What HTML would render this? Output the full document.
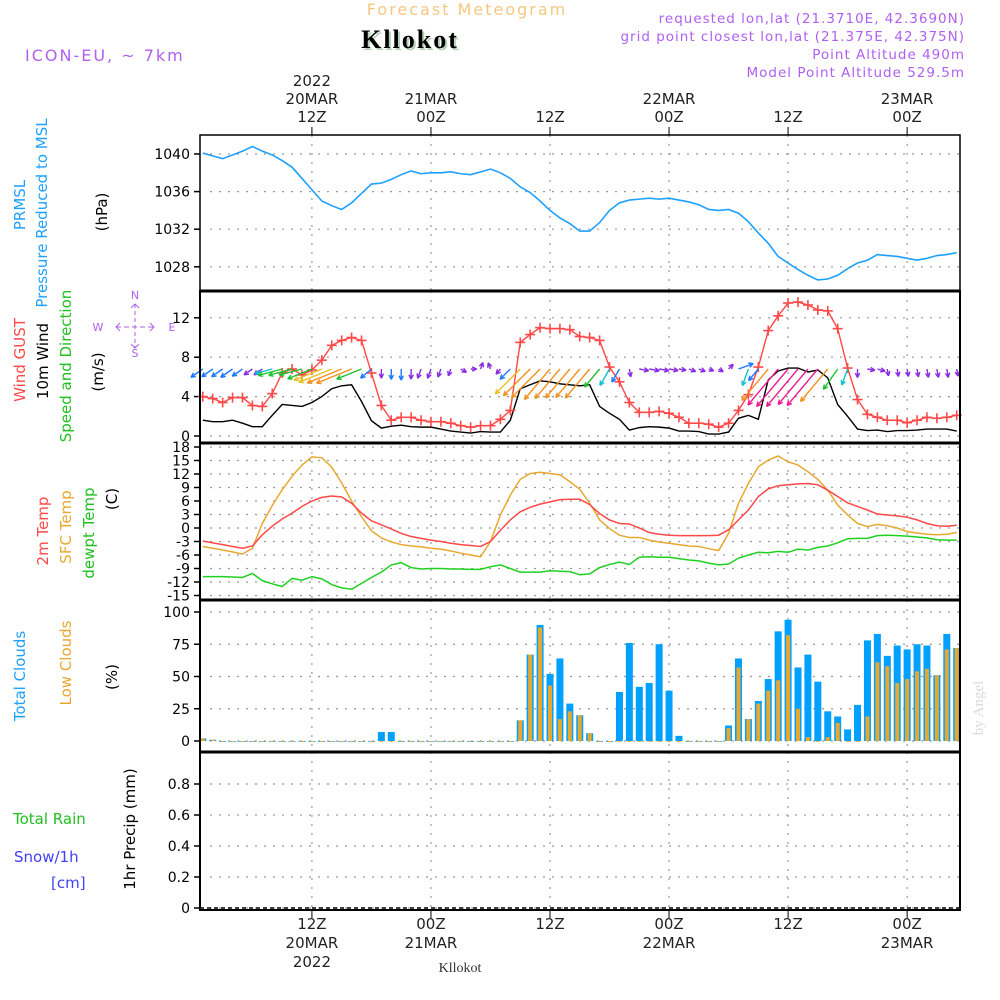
<!DOCTYPE html>
<html><head><meta charset="utf-8"><style>
body{margin:0;background:#fff}
svg{display:block;font-family:"DejaVu Sans","Liberation Sans",sans-serif}
</style></head><body>
<svg id="c" width="1000" height="1000" viewBox="0 0 1000 1000"></svg>
<script>
const hours=[];for(let h=1;h<=77;h++)hours.push(h);
const pressure=[1040.1,1039.8,1039.5,1039.9,1040.3,1040.8,1040.3,1039.9,1039.3,1038.6,1037.4,1036.2,1035.0,1034.5,1034.1,1034.8,1035.8,1036.8,1036.9,1037.3,1037.8,1038.2,1037.9,1038.0,1038.0,1038.1,1037.9,1037.8,1038.1,1038.4,1038.0,1037.4,1036.5,1035.9,1035.0,1034.0,1033.2,1032.6,1031.8,1031.8,1032.7,1034.0,1034.8,1035.1,1035.2,1035.3,1035.2,1035.3,1035.1,1034.9,1034.6,1034.1,1034.0,1034.1,1033.7,1032.8,1031.6,1030.5,1029.1,1028.4,1027.7,1027.1,1026.6,1026.7,1027.1,1027.8,1028.4,1028.7,1029.3,1029.2,1029.1,1028.9,1028.7,1028.9,1029.2,1029.3,1029.5];
const gust=[4.0,3.8,3.4,3.9,3.9,3.1,3.0,4.3,6.4,6.8,6.2,6.7,7.7,9.2,9.7,10.0,9.7,6.4,3.1,1.6,1.9,1.9,1.6,1.45,1.45,1.3,1.05,0.9,1.05,1.05,1.7,2.6,9.5,10.3,11.0,10.9,10.9,10.8,10.1,10.0,9.7,7.0,5.5,3.4,2.4,2.4,2.5,2.3,1.9,1.3,1.3,1.2,0.9,1.3,2.6,4.2,7.0,10.7,12.2,13.5,13.6,13.3,12.8,12.7,10.9,6.9,3.7,2.2,1.9,1.6,1.6,1.35,1.6,1.9,1.8,1.9,2.1];
const wind10=[1.6,1.45,1.45,1.6,1.3,0.95,0.95,2.1,3.2,3.1,3.0,3.4,4.0,4.8,5.1,5.2,3.5,1.55,0.8,1.0,1.1,0.95,0.9,0.9,0.7,0.5,0.4,0.3,0.45,0.4,0.4,1.6,4.8,5.2,5.6,5.5,5.3,5.2,5.1,5.2,3.0,2.3,1.7,0.6,0.85,0.95,0.9,0.8,0.5,0.5,0.45,0.2,0.2,0.4,1.8,2.1,1.7,5.7,6.6,6.9,6.9,6.5,6.7,5.9,3.2,2.0,0.7,0.55,0.6,0.45,0.55,0.55,0.6,0.7,0.7,0.7,0.5];
const windDir=[55,55,55,55,55,55,55,75,75,75,75,68,68,68,68,68,68,50,0,0,0,0,20,20,20,20,300,270,200,160,40,45,45,45,45,40,40,40,40,40,40,30,30,350,280,280,280,280,280,290,290,290,300,225,250,20,40,40,40,40,40,40,40,40,35,20,0,280,285,350,350,350,350,350,350,350,350];
const t2m=[-2.9,-3.3,-3.7,-4.1,-4.5,-4.0,-1.5,0.4,2.0,3.3,4.8,6.0,6.8,7.1,6.9,5.5,3.3,1.6,0.7,-0.2,-1.2,-1.9,-2.3,-2.7,-3.0,-3.4,-3.7,-3.9,-4.1,-3.0,-0.5,1.8,3.6,4.6,5.3,5.8,6.3,6.4,6.4,5.2,3.2,1.8,1.0,0.9,0.0,-1.0,-1.4,-1.6,-1.7,-1.7,-1.7,-1.7,-1.6,-0.4,1.8,4.0,7.0,8.7,9.4,9.6,9.8,9.9,9.6,8.4,7.0,5.6,4.8,4.0,3.1,2.9,2.7,2.4,1.8,1.0,0.5,0.4,0.6];
const tsfc=[-4.1,-4.5,-4.9,-5.3,-5.8,-4.5,1.0,5.0,8.5,11.5,14.0,15.8,15.6,13.5,10.0,6.0,2.5,-0.6,-2.2,-3.1,-3.7,-4.0,-4.2,-4.5,-4.7,-5.1,-5.6,-6.0,-6.4,-3.0,2.9,7.3,10.8,12.1,12.4,12.1,11.8,10.3,8.6,5.5,1.8,-0.1,-1.6,-2.1,-2.1,-2.7,-3.1,-3.4,-3.7,-4.0,-4.1,-4.6,-5.0,-1.2,5.5,9.9,13.6,15.1,16.0,14.7,14.0,12.5,10.8,8.4,5.1,2.9,1.0,0.3,0.8,0.5,0.0,-0.8,-1.1,-1.4,-1.5,-1.4,-1.0];
const tdew=[-10.8,-10.8,-10.8,-10.9,-11.0,-10.1,-11.7,-12.4,-13.0,-11.2,-11.6,-10.8,-11.3,-12.6,-13.3,-13.6,-12.3,-11.0,-9.8,-8.2,-7.7,-8.8,-9.1,-9.0,-9.0,-9.1,-9.1,-9.2,-9.2,-8.6,-8.2,-9.0,-9.8,-9.8,-9.8,-9.5,-9.6,-9.7,-10.4,-10.2,-8.8,-8.1,-7.6,-8.1,-6.5,-6.4,-6.5,-6.5,-6.8,-7.1,-7.3,-7.8,-8.2,-8.0,-6.7,-6.0,-5.4,-5.5,-5.2,-5.4,-4.7,-4.9,-4.3,-4.0,-3.3,-2.4,-2.3,-2.3,-1.7,-1.6,-1.7,-1.8,-2.0,-2.2,-2.6,-2.7,-2.7];
const cloudTotal=[2,1,0,0,0,0,0,0,0,0,0,0,0,0,0,0,0,0,7,7,0,0,0,0,0,0,0,0,0,0,0,0,16,67,90,52,64,29,20,6,0,0,38,76,42,45,75,39,4,0,0,0,0,12,64,17,31,48,85,94,57,67,46,23,19,9,28,78,83,66,74,71,75,74,51,83,72];
const cloudLow=[2,1,0,0,0,0,0,0,0,0,0,0,0,0,0,0,0,0,0,0,0,0,0,0,0,0,0,0,0,0,0,0,16,67,88,43,17,23,20,6,0,0,0,0,0,0,0,0,0,0,0,0,0,10,57,17,29,39,47,82,25,3,0,3,14,0,0,19,61,58,45,48,54,56,51,71,72];
const pTicks=[1028,1032,1036,1040];
const wTicks=[0,4,8,12];
const tTicks=[18,15,12,9,6,3,0,-3,-6,-9,-12,-15];
const cTicks=[0,25,50,75,100];
const rTicks=[0,0.2,0.4,0.6,0.8];
const timeTicks=[12,24,36,48,60,72];

const NS="http://www.w3.org/2000/svg";
const svg=document.getElementById('c');
function el(tag,attrs,parent,txt){const e=document.createElementNS(NS,tag);for(const k in attrs)e.setAttribute(k,attrs[k]);if(txt!==undefined)e.textContent=txt;(parent||svg).appendChild(e);return e;}
const X=h=>550+(h-36)*9.92;
const L=200,R=960;
const yP=v=>154+(1040-v)*9.4;
const yW=v=>436-v*9.85;
const yT=v=>528-v*4.5;
const yC=v=>741-v*1.29;
const yR=v=>908-v*155;
const panels=[[135,291],[291,443],[443,600],[600,752],[752,910]];

const grid=el('g',{stroke:'#999','stroke-width':1.2,'stroke-dasharray':'2,7'});


panels.forEach(p=>timeTicks.forEach(h=>el('line',{x1:X(h),x2:X(h),y1:p[0],y2:p[1]},grid)));
function hgrid(ticks,fy){ticks.forEach(t=>{const y=fy(t);el('line',{x1:L+10,x2:R,y1:y,y2:y},grid);
 el('line',{x1:L-6,x2:L,y1:y,y2:y,stroke:'#000','stroke-width':1.5});
 const tx=el('text',{x:L-10,y:y+5,'text-anchor':'end','font-size':14,fill:'#000'},svg,String(t));
 
 });}
hgrid(pTicks,yP);hgrid(wTicks,yW);hgrid(tTicks,yT);hgrid(cTicks,yC);hgrid(rTicks,yR);

const pl=el('polyline',{points:hours.map((h,i)=>X(h)+','+yP(pressure[i])).join(' '),fill:'none',stroke:'#1ea0ff','stroke-width':1.6});



const wl=el('polyline',{points:hours.map((h,i)=>X(h)+','+yW(wind10[i])).join(' '),fill:'none',stroke:'#000','stroke-width':1.4});


const gl=el('polyline',{points:hours.map((h,i)=>X(h)+','+yW(gust[i])).join(' '),fill:'none',stroke:'#ff4848','stroke-width':1.4});


const gm=el('g',{stroke:'#ff4848','stroke-width':1.6});


hours.forEach((h,i)=>{const x=X(h),y=yW(gust[i]);el('line',{x1:x-5,x2:x+5,y1:y,y2:y},gm);el('line',{x1:x,x2:x,y1:y-5,y2:y+5},gm);});
function wcol(s){if(s<1)return '#8a2be2';if(s<2)return '#1e78ff';if(s<3)return '#10c0d0';if(s<4)return '#20c030';if(s<5)return '#e8c020';if(s<6)return '#f09020';return '#f01890';}
const wa=el('g',{fill:'none','stroke-width':1.4});


hours.forEach((h,i)=>{const s=wind10[i],d=windDir[i]*Math.PI/180;const len=4+6.5*s;
 const dx=-Math.sin(d),dy=Math.cos(d);const x0=X(h),y0=369,x1=x0+dx*len,y1=y0+dy*len;const c=wcol(s);
 const g=el('g',{stroke:c},wa);
 el('line',{x1:x0,y1:y0,x2:x1,y2:y1},g);
 const bx=-dx,by=-dy,hl=5;
 [0.45,-0.45].forEach(t=>{const ca=Math.cos(t),sa=Math.sin(t);
   el('line',{x1:x1,y1:y1,x2:x1+(bx*ca-by*sa)*hl,y2:y1+(bx*sa+by*ca)*hl},g);});
});

[[tsfc,'#e8a830','sfc-temp-line'],[t2m,'#ff4848','temp-2m-line'],[tdew,'#20d020','dewpoint-line']].forEach(s=>{
 const l=el('polyline',{points:hours.map((h,i)=>X(h)+','+yT(s[0][i])).join(' '),fill:'none',stroke:s[1],'stroke-width':1.5});
 
 });

const cb=el('g',{});


hours.forEach((h,i)=>{const x=X(h);
 const t=el('rect',{x:x-3.5,y:yC(cloudTotal[i]),width:7,height:Math.max(741-yC(cloudTotal[i]),0.8),fill:'#00a0ff'},cb);
 
 
 const lo=el('rect',{x:x-2,y:yC(cloudLow[i]),width:4,height:Math.max(741-yC(cloudLow[i]),0.8),fill:'#e8a830'},cb);
 
 });

el('line',{x1:L,x2:R,y1:908,y2:908,stroke:'#000','stroke-width':1.5,'stroke-dasharray':'4,3'});

panels.forEach((p,i)=>{const r=el('rect',{x:L,y:p[0],width:R-L,height:p[1]-p[0],fill:'none',stroke:'#000','stroke-width':i==0?1.5:2});
 
 });
[291,443,600,752].forEach(y=>el('line',{x1:L,x2:R,y1:y,y2:y,stroke:'#000','stroke-width':3}));
timeTicks.forEach(h=>{el('line',{x1:X(h),x2:X(h),y1:127,y2:135,stroke:'#000'});el('line',{x1:X(h),x2:X(h),y1:910,y2:918,stroke:'#000'});});

function T(x,y,s,txt,name,rot){const a=Object.assign({x:x,y:y},s);if(rot)a.transform='rotate(-90 '+x+' '+y+')';const t=el('text',a,svg,txt);
 
 return t;}
const mid={'text-anchor':'middle','font-size':15};
const topL=[[12,['2022','20MAR','12Z']],[24,['21MAR','00Z']],[36,['12Z']],[48,['22MAR','00Z']],[60,['12Z']],[72,['23MAR','00Z']]];
topL.forEach(t=>{const n=t[1].length;t[1].forEach((s,k)=>T(X(t[0]),125-(n-1-k)*18-3,Object.assign({fill:'#222'},mid),s,'top-time-label'));});
const botL=[[12,['12Z','20MAR','2022']],[24,['00Z','21MAR']],[36,['12Z']],[48,['00Z','22MAR']],[60,['12Z']],[72,['00Z','23MAR']]];
botL.forEach(t=>t[1].forEach((s,k)=>T(X(t[0]),929+k*19,Object.assign({fill:'#222'},mid),s,'bottom-time-label')));

T(467,15,{'text-anchor':'middle','font-size':16,fill:'#f5c880','letter-spacing':'2'},'Forecast Meteogram','chart-title');
T(410,48,{'text-anchor':'middle','font-size':26,'font-weight':'bold','font-family':'Liberation Serif, serif',fill:'#000','letter-spacing':'2',style:'text-shadow:2px 2px 0 #b8d0b8'},'Kllokot','location-title');
T(25,61,{'font-size':16,fill:'#b060f0','letter-spacing':'2'},'ICON-EU, ~ 7km','model-label');
const rs={'text-anchor':'end','font-size':13.5,fill:'#b060f0','letter-spacing':'1'};
T(965,23,rs,'requested lon,lat (21.3710E, 42.3690N)','requested-coords');
T(965,41,rs,'grid point closest lon,lat (21.375E, 42.375N)','grid-coords');
T(965,59,rs,'Point Altitude 490m','point-altitude');
T(965,77,rs,'Model Point Altitude 529.5m','model-altitude');
T(460,972,{'text-anchor':'middle','font-size':14,'font-family':'Liberation Serif, serif',fill:'#333'},'Kllokot','footer-location');
T(983,708,{'text-anchor':'middle','font-size':15,'font-family':'Liberation Serif, serif',fill:'#d8dcd8'},'by Angel','watermark',true);

const rl=(x,y,txt,c,name)=>T(x,y,{'text-anchor':'middle','font-size':15,fill:c},txt,name,true);
rl(25,205,'PRMSL','#1ea0ff','prmsl-label');
rl(47,213,'Pressure Reduced to MSL','#1ea0ff','pressure-label');
rl(107,212,'(hPa)','#000','pressure-unit');
rl(25,360,'Wind GUST','#ff4848','gust-label');
rl(48,361,'10m Wind','#000','wind-label');
rl(71,366,'Speed and Direction','#20c020','wind-dir-label');
rl(103,372,'(m/s)','#000','wind-unit');
rl(48,531,'2m Temp','#ff4848','temp-2m-label');
rl(71,527,'SFC Temp','#e8a830','sfc-temp-label');
rl(94,533,'dewpt Temp','#20c020','dewpoint-label');
rl(117,499,'(C)','#000','temp-unit');
rl(25,676,'Total Clouds','#1ea0ff','total-clouds-label');
rl(71,663,'Low Clouds','#e8a830','low-clouds-label');
rl(117,677,'(%)','#000','clouds-unit');
rl(135,829,'1hr Precip (mm)','#000','precip-label');
T(13,824,{'font-size':15,fill:'#20c020'},'Total  Rain','rain-label');
T(14,862,{'font-size':15,fill:'#4040ff'},'Snow/1h','snow-label');
T(51,888,{'font-size':15,fill:'#4040ff'},'[cm]','snow-unit');
// compass
const cs={'font-size':11,fill:'#b060f0','text-anchor':'middle'};
T(135,299,cs,'N','compass-n');T(135,357,cs,'S','compass-s');T(98,331,cs,'W','compass-w');T(172,331,cs,'E','compass-e');
const cg=el('g',{stroke:'#b060f0','stroke-width':1,fill:'none'});


el('line',{x1:116,x2:154,y1:327,y2:327,'stroke-dasharray':'5,3'},cg);
el('line',{x1:135,x2:135,y1:304,y2:348,'stroke-dasharray':'4,3'},cg);
el('polyline',{points:'120,323 116,327 120,331'},cg);
el('polyline',{points:'150,323 154,327 150,331'},cg);
el('polyline',{points:'131,308 135,304 139,308'},cg);
el('polyline',{points:'131,344 135,348 139,344'},cg);
</script>
</body></html>
